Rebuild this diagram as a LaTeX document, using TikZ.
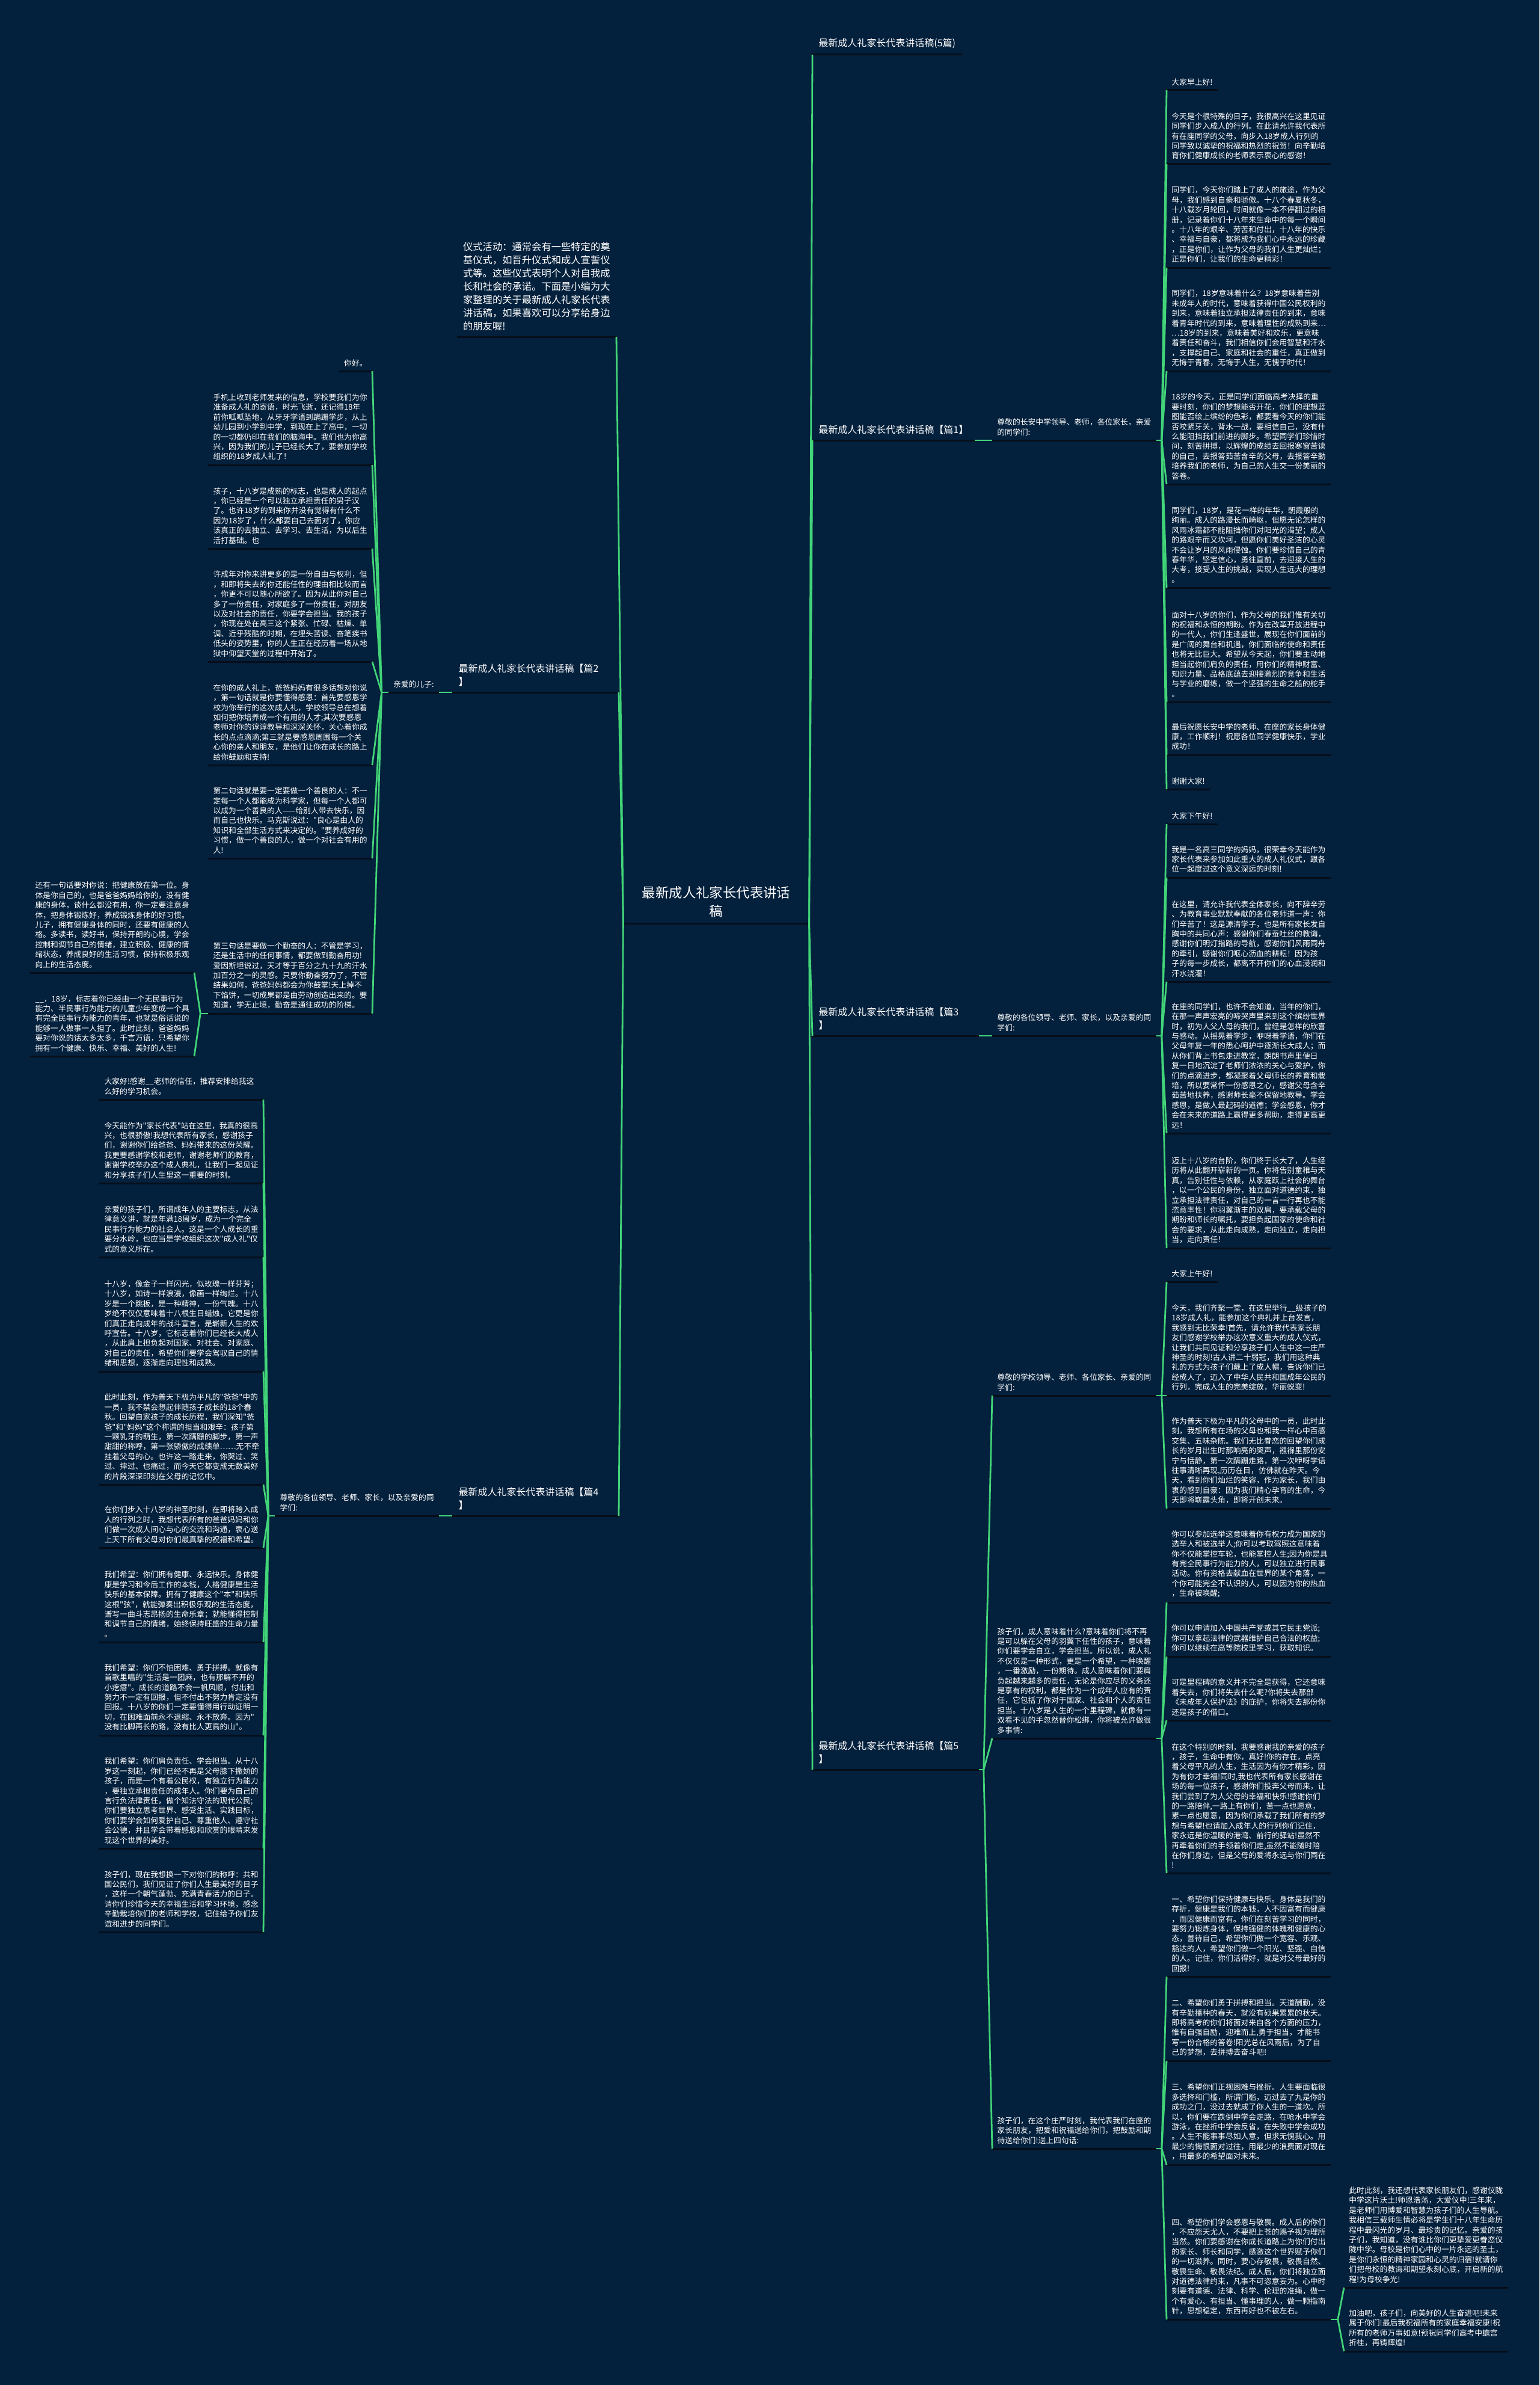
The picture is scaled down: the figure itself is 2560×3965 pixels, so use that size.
\documentclass[tikz,border=0pt]{standalone}
\usepackage{fontspec}
\newfontfamily\cjk{Noto Sans CJK SC}
\definecolor{bgc}{RGB}{3,32,60}
\definecolor{lnc}{RGB}{66,212,120}
\definecolor{ulc}{RGB}{6,14,26}
\newcommand\mmleaf{\cjk\fontsize{6.4pt}{8.2pt}\selectfont}
\newcommand\mmbr{\cjk\fontsize{8pt}{11pt}\selectfont}
\newcommand\mmintro{\cjk\fontsize{8.15pt}{11pt}\selectfont}
\newcommand\mmcenter{\cjk\fontsize{11.2pt}{15.5pt}\selectfont}
\begin{document}
\begin{tikzpicture}[x=0.5pt,y=-0.5pt,
 every node/.style={text=white,inner xsep=4pt,inner ysep=3.75pt,align=left},
 lf/.style={font=\mmleaf,text width=128pt},
 sh/.style={font=\mmleaf},
 br/.style={font=\mmbr,inner xsep=5pt,inner ysep=5pt},
 brw/.style={br,text width=128pt},
 conn/.style={draw=lnc,line width=1.4pt},
 ul/.style={draw=ulc,line width=1.5pt}]
\fill[bgc] (0,0) rectangle (2560,3965);

% ---------- centre ----------
\node[font=\mmcenter,align=center,inner xsep=15.5pt,inner ysep=4.5pt,anchor=south] (c) at (1191,1535) {最新成人礼家长代表讲话\\稿};

% ---------- right branch labels ----------
\node[br,anchor=south west] (b0) at (1351,91) {最新成人礼家长代表讲话稿(5篇)};
\node[br,anchor=south west] (b1) at (1351,732) {最新成人礼家长代表讲话稿【篇1】};
\node[brw,anchor=south west] (b3) at (1351,1722) {最新成人礼家长代表讲话稿【篇3\\】};
\node[brw,anchor=south west] (b5) at (1351,2942) {最新成人礼家长代表讲话稿【篇5\\】};

% ---------- left branch labels ----------
\node[font=\mmintro,inner xsep=5pt,inner ysep=5pt,anchor=south east] (intro) at (1025,560) {仪式活动：通常会有一些特定的奠\\基仪式，如晋升仪式和成人宣誓仪\\式等。这些仪式表明个人对自我成\\长和社会的承诺。下面是小编为大\\家整理的关于最新成人礼家长代表\\讲话稿，如果喜欢可以分享给身边\\的朋友喔!};
\node[brw,anchor=south east] (b2) at (1029,1151) {最新成人礼家长代表讲话稿【篇2\\】};
\node[brw,anchor=south east] (b4) at (1029,2520) {最新成人礼家长代表讲话稿【篇4\\】};

% ---------- sub labels ----------
\node[lf,anchor=south west] (s1) at (1650,732) {尊敬的长安中学领导、老师，各位家长，亲爱\\的同学们:};
\node[lf,anchor=south west] (s3) at (1650,1722) {尊敬的各位领导、老师、家长，以及亲爱的同\\学们:};
\node[lf,anchor=south west] (s5a) at (1650,2320) {尊敬的学校领导、老师、各位家长、亲爱的同\\学们:};
\node[lf,anchor=south west] (s5b) at (1650,2890) {孩子们，成人意味着什么?意味着你们将不再\\是可以躲在父母的羽翼下任性的孩子，意味着\\你们要学会自立，学会担当。所以说，成人礼\\不仅仅是一种形式，更是一个希望，一种唤醒\\，一番激励，一份期待。成人意味着你们要肩\\负起越来越多的责任，无论是你应尽的义务还\\是享有的权利，都是作为一个成年人应有的责\\任，它包括了你对于国家、社会和个人的责任\\担当。十八岁是人生的一个里程碑，就像有一\\双看不见的手忽然替你松绑，你将被允许做很\\多事情:};
\node[lf,anchor=south west] (s5c) at (1650,3572) {孩子们，在这个庄严时刻，我代表我们在座的\\家长朋友，把爱和祝福送给你们，把鼓励和期\\待送给你们!送上四句话:};
\node[sh,anchor=south east] (s2) at (730,1151) {亲爱的儿子:};
\node[lf,anchor=south east] (s4) at (730,2520) {尊敬的各位领导、老师、家长，以及亲爱的同\\学们:};

% ---------- branch 1 leaves ----------
\node[sh,anchor=south west] (r1a) at (1940,150) {大家早上好!};
\node[lf,anchor=south west] (r1b) at (1940,273) {今天是个很特殊的日子，我很高兴在这里见证\\同学们步入成人的行列。在此请允许我代表所\\有在座同学的父母，向步入18岁成人行列的\\同学致以诚挚的祝福和热烈的祝贺！向辛勤培\\育你们健康成长的老师表示衷心的感谢！};
\node[lf,anchor=south west] (r1c) at (1940,445) {同学们，今天你们踏上了成人的旅途，作为父\\母，我们感到自豪和骄傲。十八个春夏秋冬，\\十八载岁月轮回，时间就像一本不停翻过的相\\册，记录着你们十八年来生命中的每一个瞬间\\。十八年的艰辛、劳苦和付出，十八年的快乐\\、幸福与自豪，都将成为我们心中永远的珍藏\\，正是你们，让作为父母的我们人生更灿烂；\\正是你们，让我们的生命更精彩！};
\node[lf,anchor=south west] (r1d) at (1940,617) {同学们，18岁意味着什么？18岁意味着告别\\未成年人的时代，意味着获得中国公民权利的\\到来，意味着独立承担法律责任的到来，意味\\着青年时代的到来，意味着理性的成熟到来…\\…18岁的到来，意味着美好和欢乐，更意味\\着责任和奋斗，我们相信你们会用智慧和汗水\\，支撑起自己、家庭和社会的重任，真正做到\\无悔于青春，无悔于人生，无愧于时代！};
\node[lf,anchor=south west] (r1e) at (1940,805) {18岁的今天，正是同学们面临高考决择的重\\要时刻，你们的梦想能否开花，你们的理想蓝\\图能否绘上缤纷的色彩，都要看今天的你们能\\否咬紧牙关，背水一战，要相信自己，没有什\\么能阻挡我们前进的脚步。希望同学们珍惜时\\间，刻苦拼搏，以辉煌的成绩去回报寒窗苦读\\的自己，去报答茹苦含辛的父母，去报答辛勤\\培养我们的老师，为自己的人生交一份美丽的\\答卷。};
\node[lf,anchor=south west] (r1f) at (1940,977) {同学们，18岁，是花一样的年华，朝霞般的\\绚丽。成人的路漫长而崎岖，但愿无论怎样的\\风雨冰霜都不能阻挡你们对阳光的渴望；成人\\的路艰辛而又坎坷，但愿你们美好圣洁的心灵\\不会让岁月的风雨侵蚀。你们要珍惜自己的青\\春年华，坚定信心，勇往直前，去迎接人生的\\大考，接受人生的挑战，实现人生远大的理想\\。};
\node[lf,anchor=south west] (r1g) at (1940,1167) {面对十八岁的你们，作为父母的我们惟有关切\\的祝福和永恒的期盼。作为在改革开放进程中\\的一代人，你们生逢盛世，展现在你们面前的\\是广阔的舞台和机遇，你们面临的使命和责任\\也将无比巨大。希望从今天起，你们要主动地\\担当起你们肩负的责任，用你们的精神财富、\\知识力量、品格底蕴去迎接激烈的竞争和生活\\与学业的磨练，做一个坚强的生命之船的舵手\\。};
\node[lf,anchor=south west] (r1h) at (1940,1255) {最后祝愿长安中学的老师、在座的家长身体健\\康，工作顺利！祝愿各位同学健康快乐，学业\\成功！};
\node[sh,anchor=south west] (r1i) at (1940,1312) {谢谢大家!};

% ---------- branch 3 leaves ----------
\node[sh,anchor=south west] (r3a) at (1940,1370) {大家下午好!};
\node[lf,anchor=south west] (r3b) at (1940,1459) {我是一名高三同学的妈妈，很荣幸今天能作为\\家长代表来参加如此重大的成人礼仪式，跟各\\位一起度过这个意义深远的时刻!};
\node[lf,anchor=south west] (r3c) at (1940,1632) {在这里，请允许我代表全体家长，向不辞辛劳\\、为教育事业默默奉献的各位老师道一声：你\\们辛苦了！这是源清学子，也是所有家长发自\\胸中的共同心声：感谢你们春蚕吐丝的教诲，\\感谢你们明灯指路的导航，感谢你们风雨同舟\\的牵引，感谢你们呕心沥血的耕耘！因为孩\\子的每一步成长，都离不开你们的心血浸润和\\汗水浇灌！};
\node[lf,anchor=south west] (r3d) at (1940,1884) {在座的同学们，也许不会知道，当年的你们，\\在那一声声宏亮的啼哭声里来到这个缤纷世界\\时，初为人父人母的我们，曾经是怎样的欣喜\\与感动。从摇晃着学步，咿呀着学语，你们在\\父母年复一年的悉心呵护中逐渐长大成人；而\\从你们背上书包走进教室，朗朗书声里便日\\复一日地沉淀了老师们浓浓的关心与爱护，你\\们的点滴进步，都凝聚着父母师长的养育和栽\\培，所以要常怀一份感恩之心，感谢父母含辛\\茹苦地扶养，感谢师长毫不保留地教导。学会\\感恩，是做人最起码的道德；学会感恩，你才\\会在未来的道路上赢得更多帮助，走得更高更\\远！};
\node[lf,anchor=south west] (r3e) at (1940,2075) {迈上十八岁的台阶，你们终于长大了，人生经\\历将从此翻开崭新的一页。你将告别童稚与天\\真，告别任性与依赖，从家庭跃上社会的舞台\\，以一个公民的身份，独立面对道德约束，独\\立承担法律责任，对自己的一言一行再也不能\\恣意率性！你羽翼渐丰的双肩，要承载父母的\\期盼和师长的嘱托，要担负起国家的使命和社\\会的要求，从此走向成熟，走向独立，走向担\\当，走向责任！};

% ---------- branch 5 leaves ----------
\node[sh,anchor=south west] (r5a) at (1940,2131) {大家上午好!};
\node[lf,anchor=south west] (r5b) at (1940,2320) {今天，我们齐聚一堂，在这里举行\_\_级孩子的\\18岁成人礼，能参加这个典礼并上台发言，\\我感到无比荣幸!首先，请允许我代表家长朋\\友们感谢学校举办这次意义重大的成人仪式，\\让我们共同见证和分享孩子们人生中这一庄严\\神圣的时刻!古人讲二十弱冠，我们用这种典\\礼的方式为孩子们戴上了成人帽，告诉你们已\\经成人了，迈入了中华人民共和国成年公民的\\行列，完成人生的完美绽放，华丽蜕变!};
\node[lf,anchor=south west] (r5c) at (1940,2508) {作为普天下极为平凡的父母中的一员，此时此\\刻，我想所有在场的父母也和我一样心中百感\\交集、五味杂陈。我们无比眷恋的回望你们成\\长的岁月出生时那响亮的哭声，襁褓里那份安\\宁与恬静，第一次蹒跚走路，第一次咿呀学语\\往事清晰再现,历历在目，仿佛就在昨天。今\\天，看到你们灿烂的笑容，作为家长，我们由\\衷的感到自豪：因为我们精心孕育的生命，今\\天即将崭露头角，即将开创未来。};
\node[lf,anchor=south west] (r5d) at (1940,2664) {你可以参加选举这意味着你有权力成为国家的\\选举人和被选举人;你可以考取驾照这意味着\\你不仅能掌控车轮，也能掌控人生;因为你是具\\有完全民事行为能力的人，可以独立进行民事\\活动。你有资格去献血在世界的某个角落，一\\个你可能完全不认识的人，可以因为你的热血\\，生命被唤醒;};
\node[lf,anchor=south west] (r5e) at (1940,2754) {你可以申请加入中国共产党或其它民主党派;\\你可以拿起法律的武器维护自己合法的权益;\\你可以继续在高等院校里学习，获取知识。};
\node[lf,anchor=south west] (r5f) at (1940,2860) {可是里程碑的意义并不完全是获得，它还意味\\着失去，你们将失去什么呢?你将失去那部\\《未成年人保护法》的庇护，你将失去那份你\\还是孩子的借口。};
\node[lf,anchor=south west] (r5g) at (1940,3114) {在这个特别的时刻，我要感谢我的亲爱的孩子\\，孩子，生命中有你，真好!你的存在，点亮\\着父母平凡的人生，生活因为有你才精彩，因\\为有你才幸福!同时,我也代表所有家长感谢在\\场的每一位孩子，感谢你们投奔父母而来，让\\我们尝到了为人父母的幸福和快乐!感谢你们\\的一路陪伴,一路上有你们，苦一点也愿意，\\累一点也愿意，因为你们承载了我们所有的梦\\想与希望!也请加入成年人的行列你们记住，\\家永远是你温暖的港湾、前行的驿站!虽然不\\再牵着你们的手领着你们走,虽然不能随时陪\\在你们身边，但是父母的爱将永远与你们同在\\!};
\node[lf,anchor=south west] (r5h) at (1940,3286) {一、希望你们保持健康与快乐。身体是我们的\\存折，健康是我们的本钱，人不因富有而健康\\，而因健康而富有。你们在刻苦学习的同时，\\要努力锻炼身体，保持强健的体魄和健康的心\\态，善待自己，希望你们做一个宽容、乐观、\\豁达的人，希望你们做一个阳光、坚强、自信\\的人。记住，你们活得好，就是对父母最好的\\回报!};
\node[lf,anchor=south west] (r5i) at (1940,3426) {二、希望你们勇于拼搏和担当。天道酬勤，没\\有辛勤播种的春天，就没有硕果累累的秋天。\\即将高考的你们将面对来自各个方面的压力，\\惟有自强自励，迎难而上,勇于担当，才能书\\写一份合格的答卷!阳光总在风雨后，为了自\\己的梦想，去拼搏去奋斗吧!};
\node[lf,anchor=south west] (r5j) at (1940,3599) {三、希望你们正视困难与挫折。人生要面临很\\多选择和门槛，所谓门槛，迈过去了九是你的\\成功之门，没过去就成了你人生的一道坎。所\\以，你们要在跌倒中学会走路，在呛水中学会\\游泳，在挫折中学会反省，在失败中学会成功\\。人生不能事事尽如人意，但求无愧我心。用\\最少的悔恨面对过往，用最少的浪费面对现在\\，用最多的希望面对未来。};
\node[lf,anchor=south west] (r5k) at (1940,3856) {四、希望你们学会感恩与敬畏。成人后的你们\\，不应怨天尤人，不要把上苍的赐予视为理所\\当然。你们要感谢在你成长道路上为你们付出\\的家长、师长和同学，感激这个世界赋予你们\\的一切滋养。同时，要心存敬畏，敬畏自然、\\敬畏生命、敬畏法纪。成人后，你们将独立面\\对道德法律约束，凡事不可恣意妄为。心中时\\刻要有道德、法律、科学、伦理的准绳，做一\\个有爱心、有担当、懂事理的人，做一颗指南\\针，思想稳定，东西再好也不被左右。};
\node[lf,anchor=south west] (r5l) at (2235,3803) {此时此刻，我还想代表家长朋友们，感谢仪陇\\中学这片沃土!师恩浩荡，大爱仪中!三年来，\\是老师们用博爱和智慧为孩子们的人生导航。\\我相信三载师生情必将是学生们十八年生命历\\程中最闪光的岁月、最珍贵的记忆。亲爱的孩\\子们，我知道，没有谁比你们更挚爱更眷恋仪\\陇中学。母校是你们心中的一片永远的圣土，\\是你们永恒的精神家园和心灵的归宿!就请你\\们把母校的教诲和期望永刻心底，开启新的航\\程!为母校争光!};
\node[lf,anchor=south west] (r5m) at (2235,3909) {加油吧，孩子们，向美好的人生奋进吧!未来\\属于你们!最后我祝福所有的家庭幸福安康!祝\\所有的老师万事如意!预祝同学们高考中蟾宫\\折桂，再铸辉煌!};

% ---------- branch 2 leaves ----------
\node[sh,anchor=south east] (l2a) at (619,617) {你好。};
\node[lf,anchor=south east] (l2b) at (619,773) {手机上收到老师发来的信息，学校要我们为你\\准备成人礼的寄语，时光飞逝，还记得18年\\前你呱呱坠地，从牙牙学语到蹒跚学步，从上\\幼儿园到小学到中学，到现在上了高中，一切\\的一切都仍印在我们的脑海中。我们也为你高\\兴，因为我们的儿子已经长大了，要参加学校\\组织的18岁成人礼了！};
\node[lf,anchor=south east] (l2c) at (619,912) {孩子，十八岁是成熟的标志，也是成人的起点\\，你已经是一个可以独立承担责任的男子汉\\了。也许18岁的到来你并没有觉得有什么不\\因为18岁了，什么都要自己去面对了，你应\\该真正的去独立、去学习、去生活，为以后生\\活打基础。也};
\node[lf,anchor=south east] (l2d) at (619,1100) {许成年对你来讲更多的是一份自由与权利，但\\，和即将失去的你还能任性的理由相比较而言\\，你更不可以随心所欲了。因为从此你对自己\\多了一份责任，对家庭多了一份责任，对朋友\\以及对社会的责任，你要学会担当。我的孩子\\，你现在处在高三这个紧张、忙碌、枯燥、单\\调、近乎残酷的时期，在埋头苦读、奋笔疾书\\低头的姿势里，你的人生正在经历着一场从地\\狱中仰望天堂的过程中开始了。};
\node[lf,anchor=south east] (l2e) at (619,1272) {在你的成人礼上，爸爸妈妈有很多话想对你说\\，第一句话就是你要懂得感恩：首先要感恩学\\校为你举行的这次成人礼，学校领导总在想着\\如何把你培养成一个有用的人才;其次要感恩\\老师对你的谆谆教导和深深关怀，关心着你成\\长的点点滴滴;第三就是要感恩周围每一个关\\心你的亲人和朋友，是他们让你在成长的路上\\给你鼓励和支持!};
\node[lf,anchor=south east] (l2f) at (619,1427) {第二句话就是要一定要做一个善良的人：不一\\定每一个人都能成为科学家，但每一个人都可\\以成为一个善良的人——给别人带去快乐，因\\而自己也快乐。马克斯说过："良心是由人的\\知识和全部生活方式来决定的。"要养成好的\\习惯，做一个善良的人，做一个对社会有用的\\人!};
\node[lf,anchor=south east] (l2g) at (619,1685) {第三句话是要做一个勤奋的人：不管是学习，\\还是生活中的任何事情，都要做到勤奋用功!\\爱因斯坦说过，天才等于百分之九十九的汗水\\加百分之一的灵感。只要你勤奋努力了，不管\\结果如何，爸爸妈妈都会为你鼓掌!天上掉不\\下馅饼，一切成果都是由劳动创造出来的。要\\知道，学无止境，勤奋是通往成功的阶梯。};
\node[lf,anchor=south east] (fl1) at (323,1617) {还有一句话要对你说：把健康放在第一位。身\\体是你自己的，也是爸爸妈妈给你的，没有健\\康的身体，谈什么都没有用，你一定要注意身\\体，把身体锻炼好，养成锻炼身体的好习惯。\\儿子，拥有健康身体的同时，还要有健康的人\\格。多读书，读好书，保持开朗的心境，学会\\控制和调节自己的情绪，建立积极、健康的情\\绪状态，养成良好的生活习惯，保持积极乐观\\向上的生活态度。};
\node[lf,anchor=south east] (fl2) at (323,1756) {\_\_，18岁，标志着你已经由一个无民事行为\\能力、半民事行为能力的儿童少年变成一个具\\有完全民事行为能力的青年，也就是俗话说的\\能够一人做事一人担了。此时此刻，爸爸妈妈\\要对你说的话太多太多，千言万语，只希望你\\拥有一个健康、快乐、幸福、美好的人生!};

% ---------- branch 4 leaves ----------
\node[lf,anchor=south east] (l4a) at (438,1828) {大家好!感谢\_\_老师的信任，推荐安排给我这\\么好的学习机会。};
\node[lf,anchor=south east] (l4b) at (438,1967) {今天能作为"家长代表"站在这里，我真的很高\\兴，也很骄傲!我想代表所有家长，感谢孩子\\们，谢谢你们给爸爸、妈妈带来的这份荣耀。\\我更要感谢学校和老师，谢谢老师们的教育，\\谢谢学校举办这个成人典礼，让我们一起见证\\和分享孩子们人生里这一重要的时刻。};
\node[lf,anchor=south east] (l4c) at (438,2090) {亲爱的孩子们，所谓成年人的主要标志，从法\\律意义讲，就是年满18周岁，成为一个完全\\民事行为能力的社会人。这是一个人成长的重\\要分水岭，也应当是学校组织这次"成人礼"仪\\式的意义所在。};
\node[lf,anchor=south east] (l4d) at (438,2280) {十八岁，像金子一样闪光，似玫瑰一样芬芳；\\十八岁，如诗一样浪漫，像画一样绚烂。十八\\岁是一个跳板，是一种精神，一份气魄。十八\\岁绝不仅仅意味着十八根生日蜡烛，它更是你\\们真正走向成年的战斗宣言，是崭新人生的欢\\呼宣告。十八岁，它标志着你们已经长大成人\\，从此肩上担负起对国家、对社会、对家庭、\\对自己的责任，希望你们要学会驾驭自己的情\\绪和思想，逐渐走向理性和成熟。};
\node[lf,anchor=south east] (l4e) at (438,2468) {此时此刻，作为普天下极为平凡的"爸爸"中的\\一员，我不禁会想起伴随孩子成长的18个春\\秋。回望自家孩子的成长历程，我们深知"爸\\爸"和"妈妈"这个称谓的担当和艰辛：孩子第\\一颗乳牙的萌生，第一次蹒跚的脚步，第一声\\甜甜的称呼，第一张骄傲的成绩单……无不牵\\挂着父母的心。也许这一路走来，你哭过、笑\\过、摔过、也痛过，而今天它都变成无数美好\\的片段深深印刻在父母的记忆中。};
\node[lf,anchor=south east] (l4f) at (438,2573) {在你们步入十八岁的神圣时刻，在即将跨入成\\人的行列之时，我想代表所有的爸爸妈妈和你\\们做一次成人间心与心的交流和沟通，衷心送\\上天下所有父母对你们最真挚的祝福和希望。};
\node[lf,anchor=south east] (l4g) at (438,2730) {我们希望：你们拥有健康、永远快乐。身体健\\康是学习和今后工作的本钱，人格健康是生活\\快乐的基本保障。拥有了健康这个"本"和快乐\\这根"弦"，就能弹奏出积极乐观的生活态度，\\谱写一曲斗志昂扬的生命乐章；就能懂得控制\\和调节自己的情绪，始终保持旺盛的生命力量\\。};
\node[lf,anchor=south east] (l4h) at (438,2885) {我们希望：你们不怕困难、勇于拼搏。就像有\\首歌里唱的"生活是一团麻，也有那解不开的\\小疙瘩"。成长的道路不会一帆风顺，付出和\\努力不一定有回报，但不付出不努力肯定没有\\回报。十八岁的你们一定要懂得用行动证明一\\切，在困难面前永不退缩、永不放弃。因为"\\没有比脚再长的路，没有比人更高的山"。};
\node[lf,anchor=south east] (l4i) at (438,3073) {我们希望：你们肩负责任、学会担当。从十八\\岁这一刻起，你们已经不再是父母膝下撒娇的\\孩子，而是一个有着公民权，有独立行为能力\\，要独立承担责任的成年人。你们要为自己的\\言行负法律责任，做个知法守法的现代公民;\\你们要独立思考世界、感受生活、实践目标，\\你们要学会如何爱护自己、尊重他人、遵守社\\会公德，并且学会带着感恩和欣赏的眼睛来发\\现这个世界的美好。};
\node[lf,anchor=south east] (l4j) at (438,3212) {孩子们，现在我想换一下对你们的称呼：共和\\国公民们，我们见证了你们人生最美好的日子\\，这样一个朝气蓬勃、充满青春活力的日子。\\请你们珍惜今天的幸福生活和学习环境，感念\\辛勤栽培你们的老师和学校，记住给予你们友\\谊和进步的同学们。};

% ---------- underlines ----------
\foreach \n in {c,b0,b1,b3,b5,intro,b2,b4,s1,s3,s5a,s5b,s5c,s2,s4,
  r1a,r1b,r1c,r1d,r1e,r1f,r1g,r1h,r1i,r3a,r3b,r3c,r3d,r3e,
  r5a,r5b,r5c,r5d,r5e,r5f,r5g,r5h,r5i,r5j,r5k,r5l,r5m,
  l2a,l2b,l2c,l2d,l2e,l2f,l2g,fl1,fl2,
  l4a,l4b,l4c,l4d,l4e,l4f,l4g,l4h,l4i,l4j}
  \draw[ul] (\n.south west) -- (\n.south east);

% ---------- connectors ----------
\foreach \n in {b0,b1,b3,b5} \draw[conn] (c.south east) -- (\n.south west);
\foreach \n in {intro,b2,b4} \draw[conn] (c.south west) -- (\n.south east);

\draw[conn] (b1.south east) -- (s1.south west);
\draw[conn] (b3.south east) -- (s3.south west);
\draw[conn] (b5.south east) -- ++(8,0) coordinate (v5);
\foreach \n in {s5a,s5b,s5c} \draw[conn] (v5) -- (\n.south west);
\draw[conn] (b2.south west) -- (s2.south east);
\draw[conn] (b4.south west) -- (s4.south east);

\draw[conn] (s1.south east) -- ++(9,0) coordinate (v1);
\foreach \n in {r1a,r1b,r1c,r1d,r1e,r1f,r1g,r1h,r1i} \draw[conn] (v1) -- (\n.south west);
\draw[conn] (s3.south east) -- ++(9,0) coordinate (v3);
\foreach \n in {r3a,r3b,r3c,r3d,r3e} \draw[conn] (v3) -- (\n.south west);
\draw[conn] (s5a.south east) -- ++(9,0) coordinate (va);
\foreach \n in {r5a,r5b,r5c} \draw[conn] (va) -- (\n.south west);
\draw[conn] (s5b.south east) -- ++(9,0) coordinate (vb);
\foreach \n in {r5d,r5e,r5f,r5g} \draw[conn] (vb) -- (\n.south west);
\draw[conn] (s5c.south east) -- ++(9,0) coordinate (vc);
\foreach \n in {r5h,r5i,r5j,r5k} \draw[conn] (vc) -- (\n.south west);
\draw[conn] (r5k.south east) -- ++(12,0) coordinate (vd);
\foreach \n in {r5l,r5m} \draw[conn] (vd) -- (\n.south west);

\draw[conn] (s2.south west) -- ++(-11,0) coordinate (w2);
\foreach \n in {l2a,l2b,l2c,l2d,l2e,l2f,l2g} \draw[conn] (w2) -- (\n.south east);
\draw[conn] (l2g.south west) -- ++(-13,0) coordinate (wf);
\foreach \n in {fl1,fl2} \draw[conn] (wf) -- (\n.south east);
\draw[conn] (s4.south west) -- ++(-11,0) coordinate (w4);
\foreach \n in {l4a,l4b,l4c,l4d,l4e,l4f,l4g,l4h,l4i,l4j} \draw[conn] (w4) -- (\n.south east);
\end{tikzpicture}
\end{document}
